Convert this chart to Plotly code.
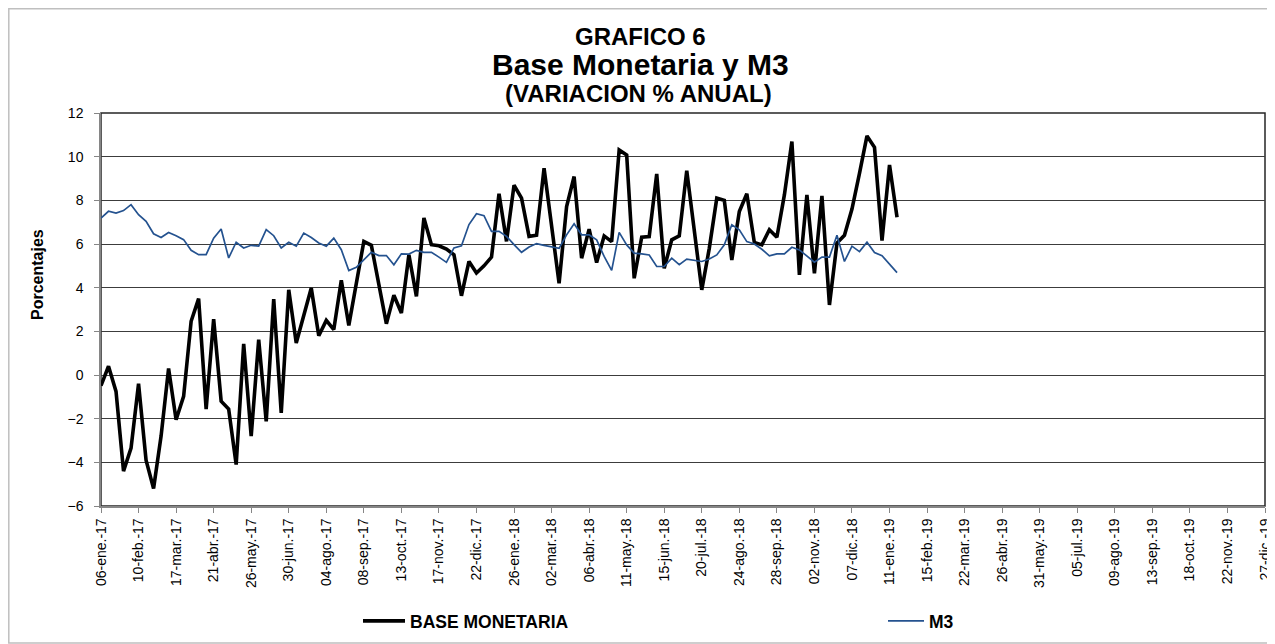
import pandas as pd
import plotly.graph_objects as go

# ---- data (weekly, annual % change) ----
start_date = "2017-01-06"
base_monetaria = [
    -0.49, 0.4, -0.75, -4.4, -3.35, -0.4, -3.9, -5.2, -2.8, 0.3,
    -2.05, -0.98, 2.46, 3.5, -1.56, 2.56, -1.2, -1.56, -4.1, 1.43,
    -2.8, 1.62, -2.12, 3.48, -1.74, 3.9, 1.47, 2.76, 3.98, 1.8,
    2.5, 2.08, 4.34, 2.27, 4.2, 6.12, 5.94, 4.2, 2.35, 3.65,
    2.84, 5.51, 3.6, 7.19, 5.97, 5.92, 5.77, 5.51, 3.63, 5.2,
    4.67, 5.0, 5.4, 8.3, 6.12, 8.69, 8.1, 6.35, 6.4, 9.47,
    6.8, 4.2, 7.71, 9.09, 5.35, 6.68, 5.15, 6.37, 6.11, 10.31,
    10.08, 4.43, 6.31, 6.34, 9.21, 4.89, 6.19, 6.37, 9.36, 6.65,
    3.9, 5.8, 8.1, 8.0, 5.27, 7.49, 8.3, 6.07, 5.96, 6.65,
    6.31, 8.25, 10.69, 4.59, 8.25, 4.66, 8.2, 3.21, 6.04, 6.4,
    7.6, 9.24, 10.95, 10.43, 6.16, 9.62, 7.22,
]
m3 = [
    7.19, 7.5, 7.42, 7.53, 7.8, 7.34, 7.04, 6.47, 6.3, 6.53,
    6.38, 6.2, 5.71, 5.51, 5.51, 6.27, 6.69, 5.36, 6.08, 5.82,
    5.94, 5.9, 6.66, 6.38, 5.82, 6.08, 5.9, 6.5, 6.3, 6.05,
    5.9, 6.27, 5.74, 4.78, 4.93, 5.28, 5.62, 5.47, 5.47, 5.05,
    5.55, 5.54, 5.71, 5.62, 5.62, 5.4, 5.16, 5.82, 5.92, 6.89,
    7.39, 7.3, 6.58, 6.58, 6.35, 5.97, 5.62, 5.86, 6.02, 5.94,
    5.88, 5.8, 6.42, 6.93, 6.42, 6.42, 6.19, 5.43, 4.79, 6.53,
    5.96, 5.58, 5.55, 5.5, 4.97, 4.97, 5.35, 5.05, 5.31, 5.27,
    5.2, 5.31, 5.5, 5.96, 6.88, 6.65, 6.11, 6.0, 5.76, 5.46,
    5.55, 5.55, 5.85, 5.73, 5.46, 5.17, 5.4, 5.4, 6.4, 5.2,
    5.9, 5.65, 6.08, 5.61, 5.46, 5.09, 4.69,
]
tick_labels = [
    "06-ene.-17", "10-feb.-17", "17-mar.-17", "21-abr.-17", "26-may.-17",
    "30-jun.-17", "04-ago.-17", "08-sep.-17", "13-oct.-17", "17-nov.-17",
    "22-dic.-17", "26-ene.-18", "02-mar.-18", "06-abr.-18", "11-may.-18",
    "15-jun.-18", "20-jul.-18", "24-ago.-18", "28-sep.-18", "02-nov.-18",
    "07-dic.-18", "11-ene.-19", "15-feb.-19", "22-mar.-19", "26-abr.-19",
    "31-may.-19", "05-jul.-19", "09-ago.-19", "13-sep.-19", "18-oct.-19",
    "22-nov.-19", "27-dic.-19",
]
axis_end = "2019-12-27"

dates = pd.date_range(start_date, periods=len(base_monetaria), freq="7D")
tick_dates = pd.date_range(start_date, axis_end, freq="35D")

FONT = "Liberation Sans, Arial, sans-serif"

fig = go.Figure()
fig.add_trace(go.Scatter(
    x=dates, y=base_monetaria, mode="lines", name="BASE MONETARIA",
    line=dict(color="#000000", width=3.6), legend="legend",
))
fig.add_trace(go.Scatter(
    x=dates, y=m3, mode="lines", name="M3",
    line=dict(color="#24528F", width=1.7), legend="legend2",
))

# The page body has an 8px margin; target positions are given in window pixels.
OFF = 8
W, H = 1275 - OFF, 644 - OFF
L, R, T, B = 101, 1265, 113, 506          # plot area in window pixels
PW, PH = R - L, B - T
def px(x):
    return (x - L) / PW
def py(y):
    return (B - y) / PH

legend_common = dict(
    orientation="h", xanchor="left", yanchor="middle",
    font=dict(size=17.5, family=FONT, color="#000000", weight="bold"),
    bgcolor="rgba(0,0,0,0)", borderwidth=0,
)

fig.update_layout(
    width=W, height=H,
    margin=dict(l=L - OFF, r=W - (R - OFF), t=T - OFF, b=H - (B - OFF), pad=0,
                autoexpand=False),
    paper_bgcolor="white", plot_bgcolor="white",
    font=dict(family=FONT, color="#000000"),
    showlegend=True,
    legend=dict(x=px(358), y=py(621), itemwidth=42, **legend_common),
    legend2=dict(x=px(883), y=py(621), itemwidth=36, **legend_common),
    xaxis=dict(
        type="date",
        range=[start_date, axis_end],
        tickmode="array", tickvals=tick_dates, ticktext=tick_labels,
        tickangle=-90, tickfont=dict(size=14, family=FONT),
        ticklabeloverflow="allow", automargin=False,
        showgrid=False, zeroline=False,
        showline=True, linecolor="#868686", linewidth=1.5,
        ticks="outside", ticklen=5, tickcolor="#868686",
    ),
    yaxis=dict(
        range=[-6, 12], dtick=2, tick0=-6,
        tickfont=dict(size=14, family=FONT),
        ticklabelstandoff=8, automargin=False,
        showgrid=True, gridcolor="#3c3c3c", gridwidth=1,
        zeroline=False,
        showline=True, linecolor="#868686", linewidth=1.5,
        ticks="outside", ticklen=5, tickcolor="#868686",
    ),
    shapes=[
        dict(type="rect", xref="paper", yref="paper", x0=0, x1=1, y0=0, y1=1,
             line=dict(color="#262626", width=1.5), layer="below"),
        dict(type="rect", xref="paper", yref="paper",
             x0=px(OFF + 0.8), x1=px(1290), y0=py(643), y1=py(OFF + 0.8),
             line=dict(color="#BFBFBF", width=1.5), layer="below"),
    ],
    annotations=[
        dict(text="<b>GRAFICO 6</b>", xref="paper", yref="paper", x=px(640), y=py(36),
             xanchor="center", yanchor="middle", showarrow=False,
             font=dict(size=24, family=FONT)),
        dict(text="<b>Base Monetaria y M3</b>", xref="paper", yref="paper", x=px(640), y=py(64),
             xanchor="center", yanchor="middle", showarrow=False,
             font=dict(size=30, family=FONT)),
        dict(text="<b>(VARIACION % ANUAL)</b>", xref="paper", yref="paper", x=px(638), y=py(93),
             xanchor="center", yanchor="middle", showarrow=False,
             font=dict(size=24, family=FONT)),
        dict(text="<b>Porcentajes</b>", xref="paper", yref="paper", x=px(37), y=py(275),
             xanchor="center", yanchor="middle", showarrow=False, textangle=-90,
             font=dict(size=16, family=FONT)),
    ],
)

fig.write_html("out.html")
